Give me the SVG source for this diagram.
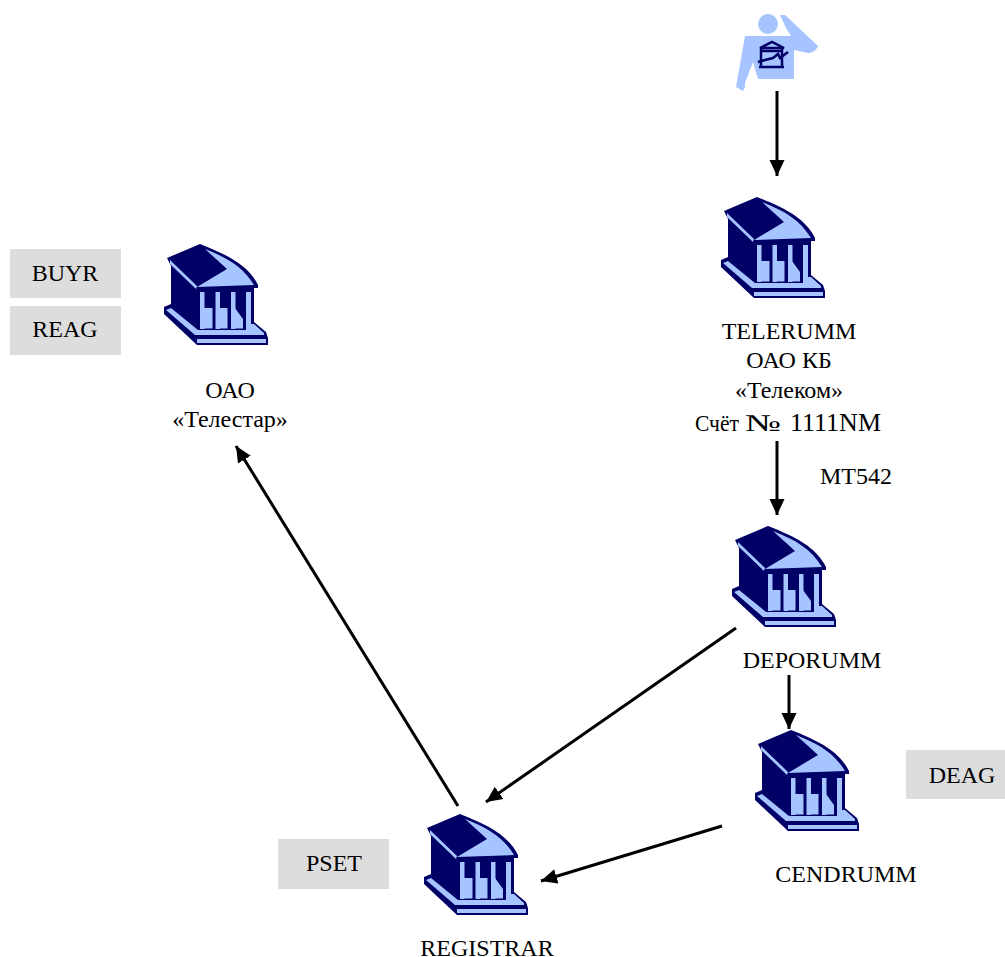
<svg xmlns="http://www.w3.org/2000/svg" width="1005" height="957" viewBox="0 0 1005 957">
<style>
text{font-family:"Liberation Serif","Times New Roman",serif;font-size:24px;fill:#000;text-anchor:middle}
.d{fill:#000066}.l{fill:#a6c4ff}
.s{fill:none;stroke:#000066;stroke-width:2.500}
.c line{stroke:#000;stroke-width:3;marker-end:url(#a)}
.b{fill:#dddddd}
</style>
<defs>
<marker id="a" markerUnits="userSpaceOnUse" markerWidth="18" markerHeight="18" refX="16" refY="8" orient="auto"><path d="M0,0.500L16,8L0,15.500Z" fill="#000"/></marker>
<g id="bank">
<path class="d" d="M17,23L50,9C78,20 98,30 108,50V53H104V87L116,97L118,103V110H47L14,79V72L21,69V31Z"/>
<path class="l" d="M55,14C78,23 93,32 104,50L47,52L77,34Z"/>
<path class="l" d="M20,25L47,51L46,54L20,29Z"/>
<path class="l" d="M50,57H54.500V94H50ZM65.500,57H70V94H65.500ZM81,57H85.500V94H81ZM96,57H101V95H96Z"/>
<path class="l" d="M54,73H62.500V93.500H54ZM70,73H77.500V93.500H70ZM85,73L93,84V93.500H85Z"/>
<path class="l" d="M16,75L21,73L48,95H101V89L104,89L114,98V100H48L45,100Z"/>
<path class="l" d="M47,104H116V108H47Z"/>
</g>
</defs>
<g id="connectors" class="c">
<line x1="777" y1="91" x2="777" y2="176"/>
<line x1="777" y1="441" x2="777" y2="515"/>
<line x1="789" y1="675" x2="789" y2="729"/>
<line x1="736" y1="628" x2="486" y2="802"/>
<line x1="722" y1="826" x2="541" y2="881"/>
<line x1="458" y1="806" x2="236" y2="446"/>
</g>
<g id="person">
<circle class="l" cx="768" cy="24" r="10"/>
<path class="l" d="M745,36H791L786,28L780,15H785L818,46C816,51 812,53 808,53L794,50V79H758L753,62L745,83V87L743,91L736,87Z"/>
<path class="s" d="M760,48L772,42L784,48ZM761,49V67M782,49V67M759,67H784M762,51H781"/>
<path class="s" d="M758,62L765,60L773,58L778,54L780,58L788,52"/>
</g>
<g id="telerumm"><use href="#bank" x="707" y="188"/><text x="789" y="339">TELERUMM</text><text x="789" y="368">ОАО КБ</text><text x="789" y="398">«Телеком»</text><text y="431" style="text-anchor:start"><tspan x="695" textLength="44" lengthAdjust="spacingAndGlyphs">Счёт</tspan> <tspan x="745" textLength="36" lengthAdjust="spacingAndGlyphs">№</tspan> <tspan x="790" font-size="26">1111NM</tspan></text></g>
<g id="mt542"><text x="856" y="484">MT542</text></g>
<g id="deporumm"><use href="#bank" x="718" y="517"/><text x="812" y="668">DEPORUMM</text></g>
<g id="cendrumm"><use href="#bank" x="741" y="721"/><text x="846" y="882">CENDRUMM</text><rect class="b" x="906" y="750" width="99" height="49"/><text x="962" y="783">DEAG</text></g>
<g id="registrar"><use href="#bank" x="410" y="805"/><text x="487" y="956">REGISTRAR</text><rect class="b" x="278" y="839" width="111" height="50"/><text x="334" y="871">PSET</text></g>
<g id="telestar"><use href="#bank" x="150" y="235"/><text x="230" y="398">ОАО</text><text x="230" y="427">«Телестар»</text><rect class="b" x="10" y="249" width="111" height="49"/><text x="65" y="281">BUYR</text><rect class="b" x="10" y="306" width="111" height="49"/><text x="65" y="337">REAG</text></g>
</svg>
